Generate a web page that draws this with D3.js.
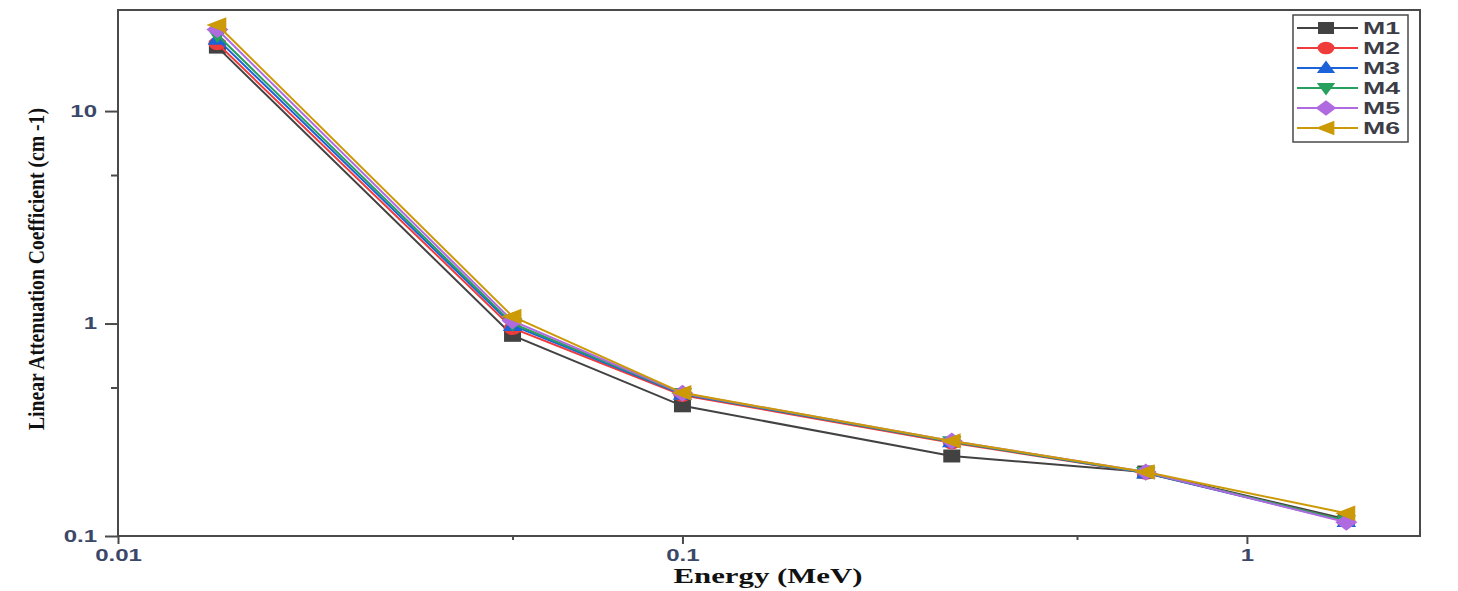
<!DOCTYPE html>
<html>
<head>
<meta charset="utf-8">
<script src="https://cdn.jsdelivr.net/npm/d3@7"></script>
<style>
  body { margin: 0; background: #fff; }
  svg { display: block; }
</style>
</head>
<body>
<div id="chart"></div>
<script>
// Photon energies (MeV) and linear attenuation coefficients (cm-1)
const energies = [0.015, 0.05, 0.1, 0.3, 0.662, 1.5];
const seriesNames = ['M1', 'M2', 'M3', 'M4', 'M5', 'M6'];
const m1 = [20.0, 0.88, 0.41, 0.238, 0.200, 0.120];
const m2 = [20.8, 0.95, 0.460, 0.275, 0.198, 0.118];
const m3 = [21.8, 0.98, 0.465, 0.278, 0.198, 0.117];
const m4 = [22.8, 1.00, 0.468, 0.278, 0.199, 0.118];
const m5 = [24.2, 1.03, 0.470, 0.280, 0.200, 0.116];
const m6 = [25.4, 1.08, 0.472, 0.280, 0.200, 0.128];
const xTicks = [0.01, 0.1, 1];
const xMinorTicks = [0.05, 0.5];
const yTicks = [0.1, 1, 10];
const yMinorTicks = [0.5, 5];

const seriesValues = [m1, m2, m3, m4, m5, m6];
const colors = ['#424242', '#f03b3b', '#1c62d8', '#27a05e', '#b06ae0', '#cc9a06'];
const markers = ['square', 'circle', 'up', 'down', 'diamond', 'left'];

const W = 1458, H = 591;
const margin = { top: 10, right: 38, bottom: 55, left: 118 };
const width = W - margin.left - margin.right;
const height = H - margin.top - margin.bottom;

const svg = d3.select('#chart').append('svg')
    .attr('width', W)
    .attr('height', H);

const g = svg.append('g')
    .attr('transform', `translate(${margin.left},${margin.top})`);

const x = d3.scaleLog().domain([0.01, 2.026]).range([0, width]);
const y = d3.scaleLog().domain([0.1, 29.9]).range([height, 0]);

// marker outlines in unit coordinates
const shapes = {
    square: [[-1, -1], [1, -1], [1, 1], [-1, 1]],
    up: [[0, -1.25], [1.15, 0.85], [-1.15, 0.85]],
    down: [[0, 1.25], [1.15, -0.85], [-1.15, -0.85]],
    diamond: [[0, -1.3], [1.3, 0], [0, 1.3], [-1.3, 0]],
    left: [[-1.3, 0], [1.05, -1.2], [1.05, 1.2]]
};

function drawMarker(sel, type, color, sx, sy) {
    if (type === 'circle') {
        sel.append('ellipse')
            .attr('rx', sx * 1.05).attr('ry', sy * 1.05)
            .attr('fill', color);
    } else {
        sel.append('path')
            .attr('d', 'M' + shapes[type].map(p => [p[0] * sx, p[1] * sy].join(',')).join('L') + 'Z')
            .attr('fill', color);
    }
}

// Axes
const yAxis = g.append('g')
    .call(d3.axisLeft(y).tickValues(yTicks).tickFormat(d3.format('')).tickSize(13).tickPadding(8));
const yMinor = g.append('g')
    .call(d3.axisLeft(y).tickValues(yMinorTicks).tickFormat('').tickSize(7));
const xAxis = g.append('g')
    .attr('transform', `translate(0,${height})`)
    .call(d3.axisBottom(x).tickValues(xTicks).tickFormat(d3.format('')).tickSize(8).tickPadding(6));
const xMinor = g.append('g')
    .attr('transform', `translate(0,${height})`)
    .call(d3.axisBottom(x).tickValues(xMinorTicks).tickFormat('').tickSize(4));

[yAxis, yMinor, xAxis, xMinor].forEach(a => {
    a.select('.domain').remove();
    a.selectAll('line').attr('stroke', '#4a4a4a').attr('stroke-width', 2);
    a.selectAll('text')
        .attr('class', 'tick-label')
        .style('font-family', 'Liberation Sans, Arial, sans-serif')
        .style('font-size', '16px')
        .style('font-weight', 'bold')
        .attr('fill', '#3b4868');
});

// Series
seriesValues.forEach((vals, i) => {
    const pts = energies.map((e, j) => ({ e, v: vals[j] }));
    const line = d3.line().x(d => x(d.e)).y(d => y(d.v));
    g.append('path')
        .datum(pts)
        .attr('d', line)
        .attr('fill', 'none')
        .attr('stroke', colors[i])
        .attr('stroke-width', 2);
    g.selectAll(`.pt-${i}`)
        .data(pts)
        .enter()
        .append('g')
        .attr('class', `pt-${i}`)
        .attr('transform', d => `translate(${x(d.e)},${y(d.v)})`)
        .each(function () { drawMarker(d3.select(this), markers[i], colors[i], 8.5, 6.5); });
});

// Frame
g.append('rect')
    .attr('width', width)
    .attr('height', height)
    .attr('fill', 'none')
    .attr('stroke', '#4a4a4a')
    .attr('stroke-width', 2);

// Legend
const legend = svg.append('g').attr('transform', 'translate(1293,15)');
legend.append('rect')
    .attr('width', 115)
    .attr('height', 127)
    .attr('fill', '#fff')
    .attr('stroke', '#4a4a4a')
    .attr('stroke-width', 1.5);
seriesNames.forEach((name, i) => {
    const row = legend.append('g').attr('transform', `translate(0,${13 + i * 20})`);
    row.append('line')
        .attr('x1', 4).attr('x2', 65)
        .attr('stroke', colors[i]).attr('stroke-width', 2);
    const m = row.append('g').attr('transform', 'translate(33,0)');
    drawMarker(m, markers[i], colors[i], 8, 6);
    row.append('text')
        .attr('x', 70)
        .attr('dy', '0.36em')
        .attr('textLength', 37)
        .attr('lengthAdjust', 'spacingAndGlyphs')
        .style('font-family', 'Liberation Sans, Arial, sans-serif')
        .style('font-size', '17px')
        .style('font-weight', 'bold')
        .attr('fill', '#3d3d45')
        .text(name);
});

// Axis titles
svg.append('text')
    .attr('x', 768)
    .attr('y', 583)
    .attr('text-anchor', 'middle')
    .attr('textLength', 189)
    .attr('lengthAdjust', 'spacingAndGlyphs')
    .style('font-family', 'Liberation Serif, Times New Roman, serif')
    .style('font-size', '20px')
    .style('font-weight', 'bold')
    .attr('fill', '#111')
    .text('Energy (MeV)');

svg.append('text')
    .attr('transform', 'translate(44,269) scale(1.5,1) rotate(-90)')
    .attr('text-anchor', 'middle')
    .attr('textLength', 322)
    .attr('lengthAdjust', 'spacingAndGlyphs')
    .style('font-family', 'Liberation Serif, Times New Roman, serif')
    .style('font-size', '16px')
    .style('font-weight', 'bold')
    .attr('fill', '#111')
    .text('Linear Attenuation Coefficient (cm -1)');

// the reference is stretched sideways: widen the tick labels to match
svg.selectAll('.tick-label').each(function () {
    const len = this.getComputedTextLength();
    d3.select(this)
        .attr('textLength', len * 1.5)
        .attr('lengthAdjust', 'spacingAndGlyphs');
});
</script>
</body>
</html>
